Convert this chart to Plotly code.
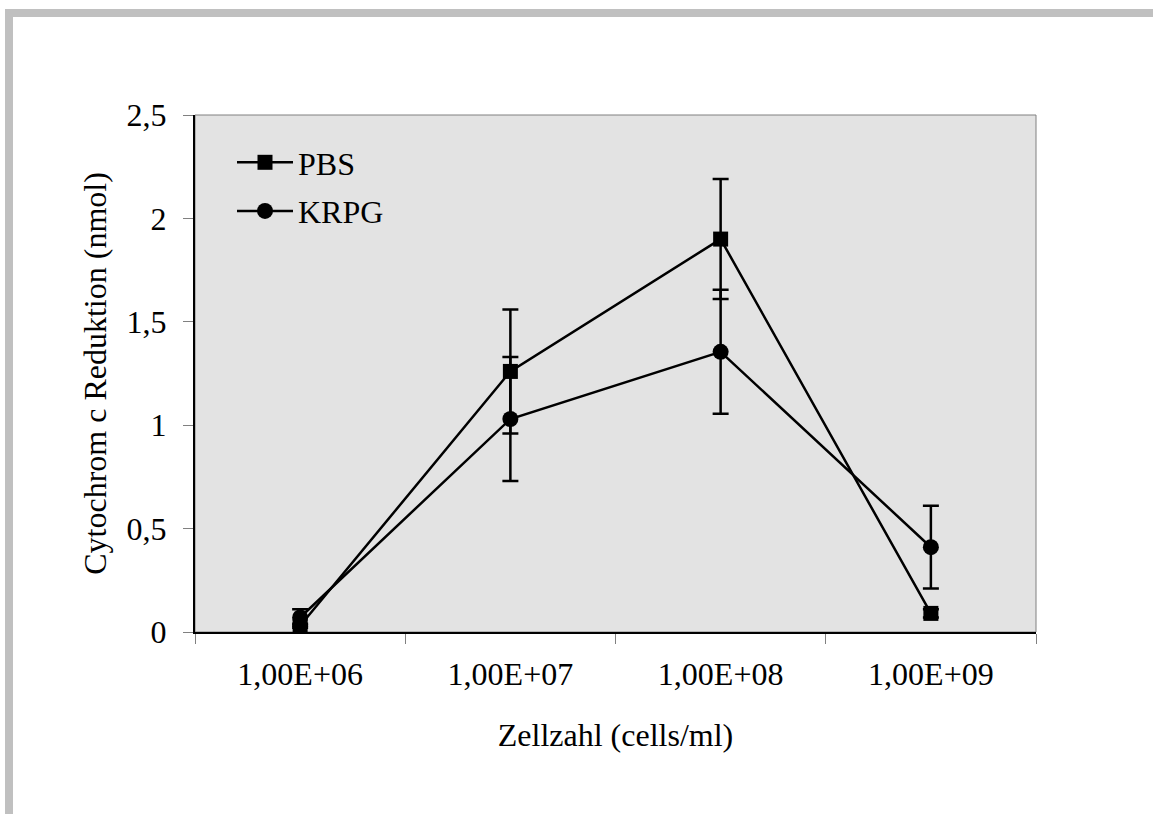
import plotly.graph_objects as go

categories = ["1,00E+06", "1,00E+07", "1,00E+08", "1,00E+09"]
pbs = [0.03, 1.26, 1.90, 0.09]
pbs_err = [0.01, 0.30, 0.29, 0.02]
krpg = [0.07, 1.03, 1.355, 0.41]
krpg_err = [0.04, 0.30, 0.30, 0.20]
y_ticks = [0, 0.5, 1, 1.5, 2, 2.5]

FONT = "Liberation Serif"
F = dict(family=FONT, size=32, color="black")

fig = go.Figure()
fig.add_trace(go.Scatter(
    x=categories, y=pbs, name="PBS", mode="lines+markers",
    line=dict(color="black", width=2.5),
    marker=dict(symbol="square", size=15, color="black"),
    error_y=dict(type="data", array=pbs_err, color="black", thickness=2.5, width=8),
    legendgroup="a",
))
fig.add_trace(go.Scatter(
    x=categories, y=krpg, name="KRPG", mode="lines+markers",
    line=dict(color="black", width=2.5),
    marker=dict(symbol="circle", size=16, color="black"),
    error_y=dict(type="data", array=krpg_err, color="black", thickness=2.5, width=8),
    legendgroup="b",
))

L, R, T, B = 195, 117, 115, 182
W, H = 1153, 814
pw, ph = W - L - R, H - T - B

def px(x):
    return (x - L) / pw

def py(y):
    return (H - B - y) / ph

shapes = [
    dict(type="rect", xref="paper", yref="paper", x0=0, x1=1, y0=0, y1=1,
         line=dict(color="#808080", width=1), layer="below"),
    dict(type="rect", xref="paper", yref="paper", x0=px(5), x1=px(W + 5), y0=py(17), y1=py(9),
         fillcolor="#C0C0C0", line=dict(width=0), layer="below"),
    dict(type="rect", xref="paper", yref="paper", x0=px(5), x1=px(13), y0=py(H + 5), y1=py(9),
         fillcolor="#C0C0C0", line=dict(width=0), layer="below"),
]

fig.update_layout(
    width=W, height=H,
    margin=dict(l=L, r=R, t=T, b=B, autoexpand=False),
    paper_bgcolor="white", plot_bgcolor="#E3E3E3",
    separators=",.",
    font=F,
    showlegend=True,
    legend=dict(x=px(232), y=py(135), xanchor="left", yanchor="top",
                bgcolor="rgba(0,0,0,0)", font=F, tracegroupgap=4, itemwidth=56),
    xaxis=dict(type="category", categoryorder="array", categoryarray=categories,
               range=[-0.5, 3.5], showline=True, linecolor="black", linewidth=2,
               ticks="outside", ticklen=10, tickcolor="#808080", tickwidth=1,
               tickson="boundaries", showgrid=False, zeroline=False,
               tickfont=F, ticklabelstandoff=13,
               title=dict(text="Zellzahl (cells/ml)", font=F, standoff=32)),
    yaxis=dict(range=[0, 2.5], tickvals=y_ticks, showline=True, linecolor="black", linewidth=2,
               ticks="outside", ticklen=10, tickcolor="#808080", tickwidth=1,
               showgrid=False, zeroline=False, tickfont=F, ticklabelstandoff=10,
               title=dict(text="Cytochrom c Reduktion (nmol)", font=F, standoff=10)),
    xaxis2=dict(overlaying="x", anchor="y", range=[-0.5, 3.5], tickvals=[-0.5, 0.5, 1.5, 2.5, 3.5],
                ticks="inside", ticklen=10, tickcolor="#808080", tickwidth=1,
                showticklabels=False, showgrid=False, zeroline=False, showline=False),
    yaxis2=dict(overlaying="y", anchor="x", range=[0, 2.5], tickvals=y_ticks,
                ticks="inside", ticklen=10, tickcolor="#808080", tickwidth=1,
                showticklabels=False, showgrid=False, zeroline=False, showline=False),
    shapes=shapes,
)

fig.write_html("out.html")
